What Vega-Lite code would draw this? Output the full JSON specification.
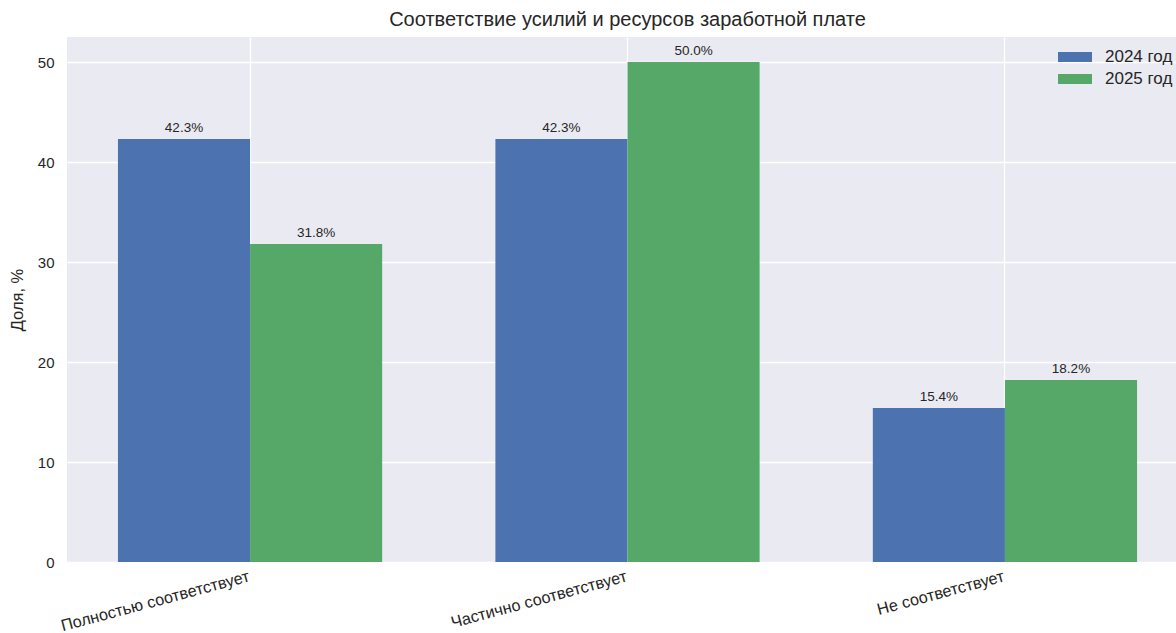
{
  "$schema": "https://vega.github.io/schema/vega-lite/v6.json",
  "autosize": "none",
  "padding": {"left": 67, "top": 37, "right": 0, "bottom": 71},
  "width": 1121,
  "height": 525,
  "background": "white",
  "title": {
    "text": "Соответствие усилий и ресурсов заработной плате",
    "fontSize": 20,
    "font": "Liberation Sans",
    "fontWeight": "normal",
    "color": "#262626",
    "anchor": "middle",
    "offset": 7
  },
  "data": {
    "values": [
      {"category": "Полностью соответствует", "year": "2024 год", "value": 42.3},
      {"category": "Полностью соответствует", "year": "2025 год", "value": 31.8},
      {"category": "Частично соответствует", "year": "2024 год", "value": 42.3},
      {"category": "Частично соответствует", "year": "2025 год", "value": 50.0},
      {"category": "Не соответствует", "year": "2024 год", "value": 15.4},
      {"category": "Не соответствует", "year": "2025 год", "value": 18.2}
    ]
  },
  "transform": [
    {"calculate": "format(datum.value, '.1f') + '%'", "as": "label"}
  ],
  "encoding": {
    "x": {
      "field": "category",
      "type": "nominal",
      "sort": null,
      "title": null,
      "scale": {"paddingInner": 0.3, "paddingOuter": 0.135},
      "axis": {
        "labelAngle": -15,
        "labelAlign": "right",
        "labelBaseline": "top",
        "labelPadding": 6,
        "labelFontSize": 16.3,
        "labelLimit": 0,
        "labelOffset": -3,
        "bandPosition": 0.5,
        "grid": true
      }
    },
    "xOffset": {
      "field": "year",
      "type": "nominal",
      "scale": {"paddingInner": 0, "paddingOuter": 0}
    },
    "y": {
      "field": "value",
      "type": "quantitative",
      "title": "Доля, %",
      "scale": {"domain": [0, 52.5], "nice": false},
      "axis": {"values": [0, 10, 20, 30, 40, 50], "labelPadding": 13, "titlePadding": 12}
    }
  },
  "layer": [
    {
      "mark": {"type": "bar"},
      "encoding": {
        "color": {
          "field": "year",
          "type": "nominal",
          "scale": {"domain": ["2024 год", "2025 год"], "range": ["#4C72B0", "#55A868"]},
          "legend": {
            "title": null,
            "orient": "none",
            "legendX": 998,
            "legendY": 10,
            "symbolType": "M-1.7,-0.5H1.7V0.5H-1.7Z",
            "symbolSize": 400,
            "symbolStrokeWidth": 0,
            "labelFontSize": 17,
            "labelFont": "Liberation Sans",
            "labelColor": "#262626",
            "labelOffset": 20,
            "rowPadding": 4
          }
        }
      }
    },
    {
      "mark": {"type": "text", "baseline": "bottom", "dy": -4, "fontSize": 13.5, "font": "Liberation Sans", "color": "#262626"},
      "encoding": {"text": {"field": "label"}}
    }
  ],
  "config": {
    "view": {"fill": "#EAEAF2", "stroke": null},
    "axis": {
      "domain": false,
      "ticks": false,
      "gridColor": "white",
      "gridWidth": 1.3,
      "gridOpacity": 1,
      "labelFont": "Liberation Sans",
      "labelFontSize": 15,
      "labelColor": "#262626",
      "titleFont": "Liberation Sans",
      "titleFontSize": 16.5,
      "titleFontWeight": "normal",
      "titleColor": "#262626"
    }
  }
}
